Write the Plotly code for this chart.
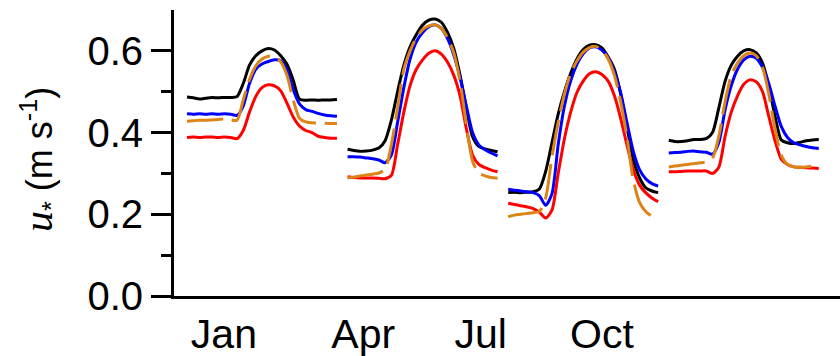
import plotly.graph_objects as go

# ---------------- data ----------------
months = ["Jan", "Apr", "Jul", "Oct"]

# hourly values (hour 0..24) of u* for each month and each series
black_jan = [0.487, 0.485, 0.482, 0.484, 0.486, 0.485, 0.486, 0.486, 0.488, 0.520, 0.565, 0.588, 0.600,
             0.606, 0.602, 0.588, 0.567, 0.528, 0.482, 0.479, 0.480, 0.479, 0.480, 0.480, 0.481]
blue_jan = [0.446, 0.445, 0.446, 0.445, 0.446, 0.445, 0.446, 0.445, 0.442, 0.465, 0.520, 0.555, 0.568,
            0.574, 0.578, 0.576, 0.553, 0.505, 0.470, 0.456, 0.452, 0.447, 0.443, 0.441, 0.440]
orange_jan = [0.428, 0.429, 0.430, 0.430, 0.431, 0.432, 0.433, 0.431, 0.430, 0.480, 0.530, 0.563, 0.580,
              0.587, 0.587, 0.573, 0.540, 0.480, 0.435, 0.426, 0.424, 0.423, 0.423, 0.422, 0.422]
red_jan = [0.388, 0.389, 0.388, 0.389, 0.389, 0.388, 0.389, 0.388, 0.385, 0.405, 0.450, 0.488, 0.510,
           0.517, 0.514, 0.502, 0.472, 0.438, 0.416, 0.405, 0.400, 0.391, 0.388, 0.386, 0.386]

black_apr = [0.359, 0.356, 0.354, 0.355, 0.357, 0.362, 0.380, 0.430, 0.500, 0.565, 0.610, 0.640, 0.663,
             0.675, 0.678, 0.670, 0.645, 0.605, 0.540, 0.460, 0.390, 0.366, 0.360, 0.356, 0.353]
blue_apr = [0.341, 0.341, 0.340, 0.338, 0.336, 0.333, 0.326, 0.345, 0.425, 0.510, 0.580, 0.622, 0.645,
            0.659, 0.664, 0.655, 0.630, 0.590, 0.535, 0.465, 0.400, 0.370, 0.358, 0.350, 0.343]
orange_apr = [0.289, 0.291, 0.294, 0.296, 0.298, 0.301, 0.310, 0.370, 0.460, 0.555, 0.600, 0.632, 0.652,
              0.661, 0.664, 0.655, 0.632, 0.595, 0.525, 0.420, 0.330, 0.301, 0.294, 0.290, 0.288]
red_apr = [0.292, 0.290, 0.289, 0.289, 0.289, 0.288, 0.287, 0.295, 0.370, 0.450, 0.515, 0.555, 0.578,
           0.594, 0.600, 0.592, 0.572, 0.540, 0.490, 0.410, 0.345, 0.322, 0.314, 0.308, 0.304]

black_jul = [0.253, 0.254, 0.253, 0.254, 0.255, 0.262, 0.305, 0.375, 0.445, 0.500, 0.545, 0.580, 0.603,
             0.614, 0.615, 0.607, 0.585, 0.555, 0.495, 0.415, 0.335, 0.290, 0.265, 0.257, 0.253]
blue_jul = [0.261, 0.259, 0.257, 0.255, 0.253, 0.245, 0.222, 0.250, 0.370, 0.465, 0.527, 0.567, 0.593,
            0.607, 0.610, 0.602, 0.583, 0.548, 0.497, 0.425, 0.355, 0.310, 0.287, 0.275, 0.269]
orange_jul = [0.194, 0.198, 0.200, 0.202, 0.204, 0.207, 0.240, 0.340, 0.425, 0.495, 0.545, 0.575, 0.597,
              0.608, 0.611, 0.603, 0.580, 0.540, 0.475, 0.390, 0.285, 0.230, 0.207, 0.195]
red_jul = [0.227, 0.224, 0.221, 0.218, 0.214, 0.205, 0.191, 0.210, 0.300, 0.385, 0.450, 0.498, 0.526,
           0.544, 0.549, 0.542, 0.526, 0.490, 0.435, 0.370, 0.310, 0.272, 0.253, 0.240, 0.231]

black_oct = [0.381, 0.378, 0.378, 0.380, 0.383, 0.383, 0.385, 0.400, 0.460, 0.525, 0.565, 0.587, 0.600,
             0.603, 0.595, 0.570, 0.515, 0.440, 0.382, 0.375, 0.373, 0.376, 0.380, 0.382, 0.383]
blue_oct = [0.350, 0.351, 0.352, 0.354, 0.355, 0.353, 0.352, 0.347, 0.375, 0.455, 0.515, 0.555, 0.578,
            0.587, 0.582, 0.560, 0.520, 0.465, 0.415, 0.388, 0.375, 0.370, 0.366, 0.363, 0.361]
orange_oct = [0.316, 0.318, 0.320, 0.322, 0.324, 0.326, 0.328, 0.338, 0.390, 0.475, 0.540, 0.570, 0.588,
              0.595, 0.588, 0.560, 0.495, 0.410, 0.345, 0.322, 0.316, 0.315, 0.316, 0.318, 0.326]
red_oct = [0.304, 0.304, 0.305, 0.306, 0.306, 0.306, 0.306, 0.300, 0.315, 0.390, 0.450, 0.490, 0.518,
           0.529, 0.524, 0.500, 0.440, 0.380, 0.335, 0.322, 0.316, 0.315, 0.314, 0.313, 0.312]

y_tick_vals = [0.0, 0.2, 0.4, 0.6]
y_minor_vals = [0.1, 0.3, 0.5]
y_title = '<span style="font-family:Liberation Serif;font-size:42px"><i>u</i></span><sub>*</sub> (m s<sup>-1</sup>)'

# ---------------- layout constants ----------------
GROUP_STEP = 25.7                      # hours between group starts on the x axis
LABEL_POS = [5.9, 28.2, 47.0, 66.4]    # x positions of the month labels

series = [
    ("Series 1", "#000000", "solid", [black_jan, black_apr, black_jul, black_oct]),
    ("Series 2", "#0000FF", "solid", [blue_jan, blue_apr, blue_jul, blue_oct]),
    ("Series 4", "#FF0000", "solid", [red_jan, red_apr, red_jul, red_oct]),
    ("Series 3", "#DC8416", "36px,9px", [orange_jan, orange_apr, orange_jul, orange_oct]),
]

fig = go.Figure()
for name, color, dash, per_month in series:
    for i, vals in enumerate(per_month):
        xs = [i * GROUP_STEP + h for h in range(len(vals))]
        fig.add_trace(go.Scatter(
            x=xs, y=vals, mode="lines", name=f"{name} {months[i]}",
            line=dict(color=color, width=3, dash=dash, shape="spline", smoothing=0.7),
            showlegend=False, hoverinfo="skip"))

fig.update_layout(
    width=840, height=356,
    margin=dict(l=174, r=0, t=10, b=60),
    paper_bgcolor="white", plot_bgcolor="white",
    showlegend=False,
)

fig.update_xaxes(
    range=[-2.08, 104.5], showgrid=False, zeroline=False,
    showline=True, linewidth=3, linecolor="black",
    ticks="", tickvals=LABEL_POS, ticktext=months,
    tickfont=dict(family="Liberation Sans, Arial", size=41, color="black"),
)

fig.update_yaxes(
    range=[0, 0.7], tickvals=y_tick_vals, tickformat=".1f",
    ticks="outside", ticklen=20, tickwidth=3, tickcolor="black",
    showline=True, linewidth=3, linecolor="black",
    showgrid=False, zeroline=False,
    tickfont=dict(family="Liberation Sans, Arial", size=40, color="black"),
    minor=dict(tickvals=y_minor_vals, ticks="outside", ticklen=10, tickwidth=3,
               tickcolor="black", showgrid=False),
)

fig.add_annotation(
    text=y_title, textangle=-90, showarrow=False,
    xref="paper", yref="paper", x=-0.201, y=0.476,
    xanchor="center", yanchor="middle",
    font=dict(family="Liberation Sans, Arial", size=36, color="black"),
)

fig.write_html("out.html")
